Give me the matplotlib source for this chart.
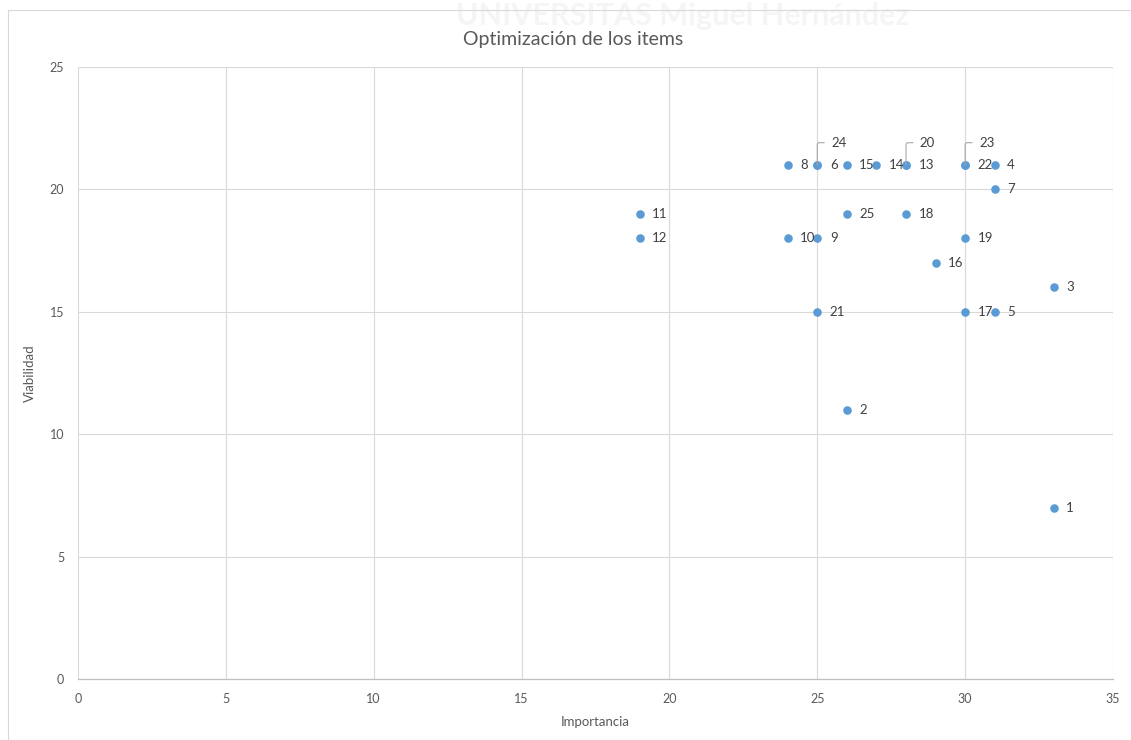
import matplotlib
matplotlib.use("Agg")
import matplotlib.pyplot as plt
from matplotlib.patches import Rectangle

plt.rcParams['font.family'] = ['Lato', 'DejaVu Sans']

items = [str(i) for i in range(1, 26)]
importancia = [33, 26, 33, 31, 31, 25, 31, 24, 25, 24, 19, 19, 28, 27, 26, 29, 30, 28, 30, 28, 25, 30, 30, 25, 26]
viabilidad = [7, 11, 16, 21, 15, 21, 20, 21, 18, 18, 19, 18, 21, 21, 21, 17, 15, 19, 18, 21, 15, 21, 21, 21, 19]
leader_items = ['20', '23', '24']

title = "Optimización de los items"
xlabel = "Importancia"
ylabel = "Viabilidad"
xticks = [0, 5, 10, 15, 20, 25, 30, 35]
yticks = [0, 5, 10, 15, 20, 25]

W, H = 1131, 740
fig = plt.figure(figsize=(W / 100, H / 100), dpi=100)
fig.patch.set_facecolor('white')

# chart border
fig.patches.append(Rectangle((8 / W, 0), 1.2, 1 - 10 / H, transform=fig.transFigure,
                             fill=False, edgecolor='#d9d9d9', linewidth=0.8))
# faint watermark
fig.text(683 / W, 1 - 16 / H, "UNIVERSITAS Miguel Hernández", ha='center', va='center',
         fontsize=22, fontweight='bold', color='#f5f5f5', zorder=0)

ax = fig.add_axes([78 / W, 1 - 679 / H, (1113 - 78) / W, (679 - 67) / H])
ax.set_facecolor('none')
ax.set_xlim(0, 35)
ax.set_ylim(0, 25)
ax.set_xticks(xticks)
ax.set_yticks(yticks)
ax.grid(True, color='#d9d9d9', linewidth=0.8)
ax.set_axisbelow(True)
for s in ['top', 'right', 'left']:
    ax.spines[s].set_visible(False)
ax.spines['bottom'].set_color('#bfbfbf')
ax.spines['bottom'].set_linewidth(0.9)
ax.tick_params(length=0, labelsize=9, labelcolor='#595959', pad=10)

ax.scatter(importancia, viabilidad, s=38, color='#5B9BD5', zorder=3, linewidths=0)

for name, x, y in zip(items, importancia, viabilidad):
    if name in leader_items:
        ax.annotate(name, xy=(x, y), xytext=(10, 16), textcoords='offset points',
                    fontsize=9.5, color='#404040', va='center', ha='left',
                    arrowprops=dict(arrowstyle='-', color='#a6a6a6', linewidth=0.8,
                                    connectionstyle='angle,angleA=0,angleB=90,rad=2',
                                    shrinkA=3, shrinkB=0))
    else:
        ax.annotate(name, xy=(x, y), xytext=(9, 0), textcoords='offset points',
                    fontsize=9.5, color='#404040', va='center', ha='left')

ax.set_xlabel(xlabel, fontsize=9.5, color='#595959', labelpad=8)
ax.set_ylabel(ylabel, fontsize=9.5, color='#595959', labelpad=10)
fig.text(573 / W, 1 - 40 / H, title, ha='center', va='center', fontsize=14, color='#595959')

fig.savefig('out.png', dpi=100)
